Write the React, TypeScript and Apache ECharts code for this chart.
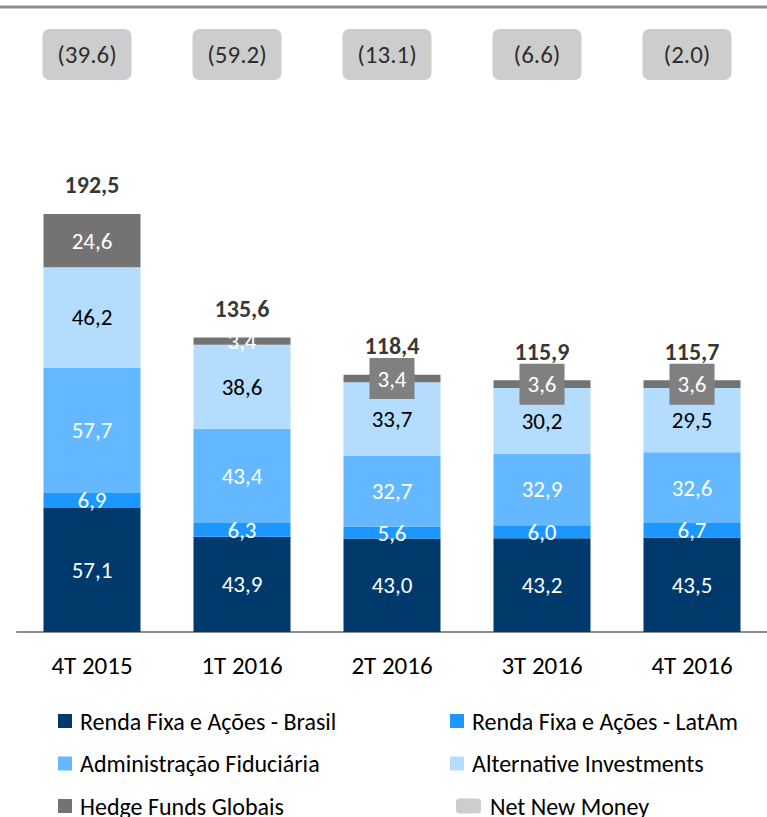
import React, { useEffect, useRef } from 'react';
import * as echarts from 'echarts';

const categories = ['4T 2015', '1T 2016', '2T 2016', '3T 2016', '4T 2016'];
const rendaBrasil = [57.1, 43.9, 43.0, 43.2, 43.5];
const rendaLatAm = [6.9, 6.3, 5.6, 6.0, 6.7];
const adminFiduciaria = [57.7, 43.4, 32.7, 32.9, 32.6];
const alternativeInv = [46.2, 38.6, 33.7, 30.2, 29.5];
const hedgeFunds = [24.6, 3.4, 3.4, 3.6, 3.6];
const totals = [192.5, 135.6, 118.4, 115.9, 115.7];
const netNewMoney = [-39.6, -59.2, -13.1, -6.6, -2.0];

const FONT = 'Carlito, Lato, "Open Sans", sans-serif';
const fmtComma = (v: number) => v.toFixed(1).replace('.', ',');

export default function App() {
  const ref = useRef<HTMLDivElement>(null);
  useEffect(() => {
    if (!ref.current) return;
    const chart = echarts.init(ref.current, null, { renderer: 'svg' });
    const segLabel = (color: string) => ({
      show: true,
      position: 'inside',
      color,
      fontSize: 23,
      fontFamily: FONT,
      formatter: (p: any) => fmtComma(p.value),
    });
    const barBase = {
      type: 'bar',
      stack: 'total',
      barWidth: 97,
      xAxisIndex: 0,
      yAxisIndex: 0,
    };
    const legendText = {
      color: '#000',
      fontSize: 24,
      fontFamily: FONT,
      lineHeight: 24,
      padding: [0, 0, 0, 3],
    };
    const legendBase = {
      orient: 'vertical',
      padding: 0,
      itemWidth: 14,
      itemHeight: 14,
      itemGap: 18.5,
      icon: 'rect',
      textStyle: legendText,
    };
    chart.setOption({
      animation: false,
      textStyle: { fontFamily: FONT },
      graphic: [
        {
          type: 'line',
          shape: { x1: 0, y1: 7, x2: 767, y2: 7 },
          style: { stroke: '#8C8C8C', lineWidth: 3 },
        },
      ],
      grid: [
        { left: 17, width: 755, top: 197.6, height: 434.4 },
        { left: 17, width: 755, top: 29, height: 51 },
      ],
      xAxis: [
        {
          gridIndex: 0,
          type: 'category',
          data: categories,
          axisLine: { show: true, lineStyle: { color: '#8C8C8C', width: 2 } },
          axisTick: { show: false },
          axisLabel: { color: '#000', fontSize: 25, fontFamily: FONT, margin: 21 },
        },
        { gridIndex: 1, type: 'category', data: categories, show: false },
      ],
      yAxis: [
        { gridIndex: 0, type: 'value', min: 0, max: 200, show: false, splitLine: { show: false } },
        { gridIndex: 1, type: 'value', min: -1, max: 1, show: false, splitLine: { show: false } },
      ],
      legend: [
        {
          ...legendBase,
          left: 58,
          top: 709,
          data: ['Renda Fixa e Ações - Brasil', 'Administração Fiduciária'],
        },
        {
          ...legendBase,
          left: 58,
          top: 794,
          data: ['Hedge Funds Globais'],
        },
        {
          ...legendBase,
          left: 450,
          top: 709,
          data: ['Renda Fixa e Ações - LatAm', 'Alternative Investments'],
        },
        {
          ...legendBase,
          left: 456,
          top: 794,
          itemWidth: 25,
          itemHeight: 15,
          icon: 'roundRect',
          textStyle: { ...legendText, padding: [0, 0, 0, 4] },
          data: ['Net New Money'],
        },
      ],
      series: [
        {
          ...barBase,
          name: 'Renda Fixa e Ações - Brasil',
          data: rendaBrasil,
          itemStyle: { color: '#003A6D' },
          label: segLabel('#fff'),
        },
        {
          ...barBase,
          name: 'Renda Fixa e Ações - LatAm',
          data: rendaLatAm,
          itemStyle: { color: '#1C97FF' },
          label: segLabel('#fff'),
        },
        {
          ...barBase,
          name: 'Administração Fiduciária',
          data: adminFiduciaria,
          itemStyle: { color: '#63B8FF' },
          label: segLabel('#fff'),
        },
        {
          ...barBase,
          name: 'Alternative Investments',
          data: alternativeInv,
          itemStyle: { color: '#B3DCFF' },
          label: segLabel('#000'),
        },
        {
          ...barBase,
          name: 'Hedge Funds Globais',
          data: hedgeFunds.map((v, i) =>
            i >= 2
              ? { value: v, label: { backgroundColor: '#808080', padding: [9, 8, 9, 8] } }
              : v
          ),
          itemStyle: { color: '#737373' },
          label: segLabel('#fff'),
        },
        {
          type: 'scatter',
          name: 'Totais',
          xAxisIndex: 0,
          yAxisIndex: 0,
          symbolSize: 0,
          data: totals,
          silent: true,
          label: {
            show: true,
            position: 'top',
            distance: 17,
            color: '#000',
            fontSize: 24,
            fontWeight: 'bold',
            fontFamily: FONT,
            formatter: (p: any) => fmtComma(p.value),
          },
        },
        {
          type: 'scatter',
          name: 'Net New Money',
          xAxisIndex: 1,
          yAxisIndex: 1,
          symbolSize: 0,
          itemStyle: { color: '#C0C0C0' },
          data: netNewMoney.map((v, i) => ({ value: [i, 0], nnm: v })),
          label: {
            show: true,
            position: 'inside',
            offset: [-5, 0],
            backgroundColor: '#C0C0C0',
            borderRadius: 7,
            width: 89,
            height: 51,
            lineHeight: 51,
            align: 'center',
            verticalAlign: 'middle',
            color: '#000',
            fontSize: 25,
            fontFamily: FONT,
            formatter: (p: any) => {
              const v = p.data.nnm as number;
              return v < 0 ? `(${Math.abs(v).toFixed(1)})` : v.toFixed(1);
            },
          },
        },
      ],
    });
    return () => chart.dispose();
  }, []);
  return (
    <div
      ref={ref}
      style={{ position: 'absolute', left: 0, top: 0, width: 767, height: 817 }}
    />
  );
}
